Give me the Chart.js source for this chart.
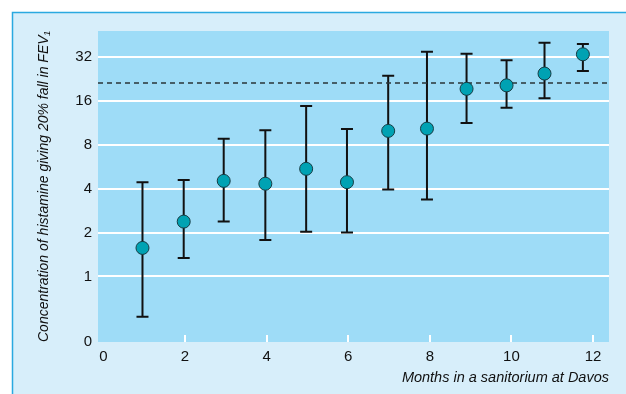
<!DOCTYPE html>
<html>
<head>
<meta charset="utf-8">
<script src="https://cdn.jsdelivr.net/npm/chart.js@4.4.0/dist/chart.umd.min.js"></script>
<style>
  html, body { margin: 0; padding: 0; background: #fff; }
  #wrap { width: 626px; height: 394px; }
</style>
</head>
<body>
<div id="wrap"><canvas id="chart" width="626" height="394"></canvas></div>
<script>
// --- DATA ---
const months = [0.96, 1.97, 2.95, 3.97, 4.97, 5.97, 6.98, 7.93, 8.9, 9.88, 10.81, 11.75];
const meanDose = [1.57, 2.38, 4.53, 4.33, 5.48, 4.44, 9.98, 10.35, 19.4, 20.5, 24.7, 33.5];
const lowerDose = [0.53, 1.34, 2.38, 1.78, 2.03, 2.0, 3.95, 3.37, 11.3, 14.4, 16.7, 25.7];
const upperDose = [4.44, 4.6, 8.8, 10.1, 14.8, 10.3, 23.9, 34.9, 33.8, 30.5, 40.2, 39.4];
const referenceDose = 21.3;
const yTickValues = [1, 2, 4, 8, 16, 32];
const xTickValues = [0, 2, 4, 6, 8, 10, 12];

// --- STYLE ---
const FONT = "'Liberation Sans Narrow', 'Arial Narrow', 'Liberation Sans', sans-serif";
const Y_MIN = 0.355;
const Y_MAX = 48.4;
const X_MIN = -0.13;
const X_MAX = 12.39;

const panelPlugin = {
    id: 'panel',
    beforeDraw(chart) {
        const ctx = chart.ctx;
        const area = chart.chartArea;
        ctx.save();
        ctx.fillStyle = '#ffffff';
        ctx.fillRect(0, 0, chart.width, chart.height);
        ctx.fillStyle = '#d7eefa';
        ctx.fillRect(12, 12, chart.width - 12, chart.height - 12);
        ctx.strokeStyle = '#2aa9e0';
        ctx.lineWidth = 1.5;
        ctx.beginPath();
        ctx.moveTo(12.5, chart.height);
        ctx.lineTo(12.5, 12.5);
        ctx.lineTo(chart.width, 12.5);
        ctx.stroke();
        ctx.fillStyle = '#9edcf7';
        ctx.fillRect(area.left, area.top, area.right - area.left, area.bottom - area.top);
        ctx.restore();
    },
    beforeDatasetsDraw(chart) {
        const ctx = chart.ctx;
        const xs = chart.scales.x;
        const ys = chart.scales.y;
        const area = chart.chartArea;
        ctx.save();
        // small white tick marks along the bottom
        ctx.strokeStyle = '#ffffff';
        ctx.lineWidth = 2;
        xTickValues.forEach(v => {
            if (v === 0) return;
            const px = Math.round(xs.getPixelForValue(v));
            ctx.beginPath();
            ctx.moveTo(px, area.bottom);
            ctx.lineTo(px, area.bottom - 7);
            ctx.stroke();
        });
        // error bars
        ctx.strokeStyle = '#111111';
        ctx.lineWidth = 2;
        months.forEach((m, i) => {
            const px = xs.getPixelForValue(m);
            const top = ys.getPixelForValue(upperDose[i]);
            const bot = ys.getPixelForValue(lowerDose[i]);
            ctx.beginPath();
            ctx.moveTo(px, top);
            ctx.lineTo(px, bot);
            ctx.moveTo(px - 6, top);
            ctx.lineTo(px + 6, top);
            ctx.moveTo(px - 6, bot);
            ctx.lineTo(px + 6, bot);
            ctx.stroke();
        });
        ctx.restore();
    }
};

const chartCanvas = document.getElementById('chart');

new Chart(chartCanvas, {
    type: 'scatter',
    data: {
        datasets: [
            {
                label: 'Histamine PC20',
                data: months.map((m, i) => ({ x: m, y: meanDose[i] })),
                backgroundColor: '#00a2b3',
                borderColor: '#163c44',
                borderWidth: 1,
                pointRadius: 6.5,
                order: 1
            },
            {
                type: 'line',
                label: 'Reference',
                data: [{ x: X_MIN, y: referenceDose }, { x: X_MAX, y: referenceDose }],
                borderColor: '#2a3438',
                borderWidth: 1.5,
                borderDash: [5, 4],
                pointRadius: 0,
                fill: false,
                order: 2
            }
        ]
    },
    options: {
        responsive: false,
        animation: false,
        layout: { padding: { left: 0, top: 31, right: 17, bottom: 0 } },
        plugins: {
            legend: { display: false },
            tooltip: { enabled: false }
        },
        scales: {
            x: {
                type: 'linear',
                min: X_MIN,
                max: X_MAX,
                afterBuildTicks: scale => { scale.ticks = xTickValues.map(v => ({ value: v })); },
                afterFit: scale => { scale.height = 52; },
                grid: { display: false, drawTicks: false },
                border: { display: false },
                ticks: {
                    color: '#111',
                    font: { family: FONT, size: 15 },
                    padding: 6,
                    maxRotation: 0,
                    autoSkip: false
                },
                title: {
                    display: true,
                    text: 'Months in a sanitorium at Davos',
                    align: 'end',
                    color: '#111',
                    font: { family: FONT, size: 14.5, style: 'italic' },
                    padding: { top: 0, bottom: 7 }
                }
            },
            y: {
                type: 'logarithmic',
                min: Y_MIN,
                max: Y_MAX,
                afterBuildTicks: scale => {
                    scale.ticks = [Y_MIN].concat(yTickValues).map(v => ({ value: v }));
                },
                afterFit: scale => { scale.width = 98; },
                grid: {
                    drawTicks: false,
                    lineWidth: 2,
                    color: ctx => (ctx.tick && ctx.tick.value === Y_MIN ? 'rgba(0,0,0,0)' : '#ffffff')
                },
                border: { display: false },
                ticks: {
                    color: '#111',
                    font: { family: FONT, size: 15 },
                    padding: 6,
                    autoSkip: false,
                    callback: v => (v === Y_MIN ? '0' : String(v))
                },
                title: {
                    display: true,
                    text: 'Concentration of histamine giving 20% fall in FEV\u2081',
                    color: '#111',
                    font: { family: FONT, size: 14, style: 'italic' },
                    padding: { top: 36, bottom: 0 }
                }
            }
        }
    },
    plugins: [panelPlugin]
});
</script>
</body>
</html>
